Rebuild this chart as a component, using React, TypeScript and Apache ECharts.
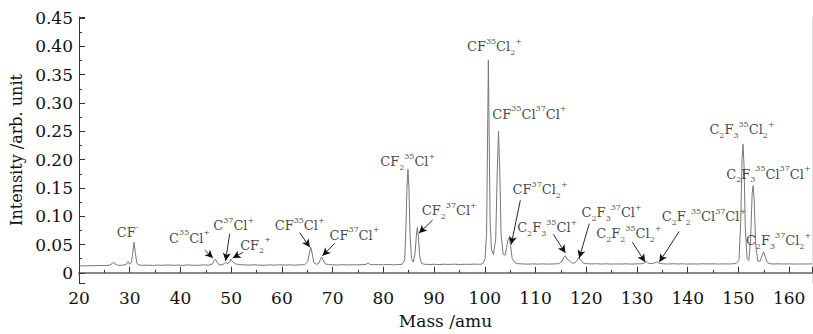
import { useEffect, useRef } from 'react';
import * as echarts from 'echarts';

// Spectrum trace (mass in amu, intensity in arb. unit)
const mass = [
  20, 21, 22, 23, 24, 25, 26, 26.5, 26.8, 27.1, 27.6, 28.2, 28.8, 29.3, 29.7, 30.0, 30.35, 30.6, 30.85, 31.1, 31.4, 31.8,
  32.5, 33.5, 34.5, 35.5, 36.5, 37.5, 38.5, 39.5, 40.5, 41.5, 42.5, 43.5, 44.5, 45.5,
  46.2, 46.6, 46.9, 47.2, 47.6, 48.2, 48.6, 48.9, 49.2, 49.6, 49.95, 50.3, 50.8,
  51.5, 52.5, 53.5, 54.5, 55.5, 56.5, 57.5, 58.5, 59.5, 60.5, 61.5, 62.5, 63.5, 64.5,
  65.1, 65.45, 65.7, 65.95, 66.3, 66.8, 67.3, 67.6, 67.85, 68.1, 68.5, 69.2,
  70, 71, 72, 73, 74, 75, 76, 76.6, 77, 77.4, 78, 79, 80, 81, 82, 83, 83.7,
  84.2, 84.45, 84.65, 84.85, 85.05, 85.25, 85.55, 85.9, 86.25, 86.5, 86.7, 86.9, 87.15, 87.5,
  88, 89, 90, 91, 92, 93, 94, 95, 96, 97, 98, 99, 99.6,
  100.05, 100.35, 100.55, 100.7, 100.85, 101.05, 101.3, 101.7, 102.15, 102.45, 102.7, 102.95, 103.2, 103.6,
  104.0, 104.3, 104.55, 104.8, 105.05, 105.4, 105.9, 106.5,
  107.5, 108.5, 109.5, 110.5, 111.5, 112.5, 113.5, 114.5,
  115.2, 115.6, 115.9, 116.2, 116.6, 117.1, 117.7, 118.2, 118.55, 118.9, 119.4,
  120, 121, 122, 123, 124, 125, 126, 127, 128, 129, 130, 131,
  131.5, 131.9, 132.4, 133, 133.6, 134.0, 134.5, 135.2,
  136, 137, 138, 139, 140, 141, 142, 143, 144, 145, 146, 147, 148, 149, 149.6,
  150.1, 150.45, 150.7, 150.9, 151.1, 151.35, 151.7, 152.05, 152.4, 152.7, 152.9, 153.1, 153.4, 153.8,
  154.25, 154.65, 154.95, 155.3, 155.7, 156.3, 157, 158, 159, 160, 161, 162, 163, 164, 164.5,
];
const intensity = [
  0.0125, 0.0122, 0.0128, 0.0124, 0.0130, 0.0127, 0.0134, 0.0160, 0.0190, 0.0158, 0.0135, 0.0132, 0.0138, 0.0150, 0.0200, 0.0150, 0.0190, 0.0360, 0.0540, 0.0360, 0.0170, 0.0140,
  0.0132, 0.0136, 0.0130, 0.0137, 0.0131, 0.0140, 0.0132, 0.0137, 0.0131, 0.0140, 0.0134, 0.0131, 0.0140, 0.0135,
  0.0150, 0.0210, 0.0240, 0.0190, 0.0145, 0.0140, 0.0160, 0.0190, 0.0160, 0.0180, 0.0240, 0.0190, 0.0160,
  0.0145, 0.0140, 0.0136, 0.0142, 0.0135, 0.0133, 0.0140, 0.0135, 0.0142, 0.0136, 0.0140, 0.0135, 0.0141, 0.0143,
  0.0200, 0.0370, 0.0450, 0.0350, 0.0180, 0.0150, 0.0170, 0.0240, 0.0280, 0.0230, 0.0160, 0.0145,
  0.0142, 0.0138, 0.0144, 0.0139, 0.0143, 0.0140, 0.0145, 0.0150, 0.0175, 0.0148, 0.0143, 0.0146, 0.0141, 0.0147, 0.0142, 0.0146, 0.0150,
  0.0220, 0.0800, 0.1500, 0.1830, 0.1500, 0.0700, 0.0250, 0.0190, 0.0350, 0.0650, 0.0800, 0.0650, 0.0300, 0.0170,
  0.0152, 0.0147, 0.0151, 0.0146, 0.0152, 0.0148, 0.0153, 0.0147, 0.0152, 0.0149, 0.0154, 0.0150, 0.0160,
  0.0250, 0.0700, 0.2400, 0.3760, 0.2500, 0.0900, 0.0420, 0.0320, 0.0600, 0.1800, 0.2500, 0.1800, 0.0700, 0.0330,
  0.0310, 0.0450, 0.0580, 0.0620, 0.0500, 0.0250, 0.0180, 0.0162,
  0.0157, 0.0153, 0.0158, 0.0154, 0.0158, 0.0153, 0.0157, 0.0160,
  0.0200, 0.0280, 0.0300, 0.0240, 0.0220, 0.0180, 0.0170, 0.0220, 0.0270, 0.0220, 0.0172,
  0.0162, 0.0157, 0.0160, 0.0155, 0.0159, 0.0154, 0.0158, 0.0155, 0.0159, 0.0154, 0.0158, 0.0160,
  0.0175, 0.0200, 0.0165, 0.0162, 0.0180, 0.0190, 0.0165, 0.0158,
  0.0155, 0.0160, 0.0156, 0.0159, 0.0154, 0.0158, 0.0155, 0.0160, 0.0156, 0.0159, 0.0155, 0.0158, 0.0156, 0.0160, 0.0170,
  0.0220, 0.0900, 0.2000, 0.2270, 0.1900, 0.0800, 0.0250, 0.0220, 0.0600, 0.1400, 0.1540, 0.1300, 0.0500, 0.0210,
  0.0200, 0.0300, 0.0370, 0.0280, 0.0180, 0.0160, 0.0156, 0.0159, 0.0155, 0.0158, 0.0154, 0.0157, 0.0155, 0.0158, 0.0156,
];

// Ion annotations (rich text), placed at data coordinates
const ionLabels = [
  '{n|CF}{sup|-}',
  '{n|C}{sup|35}{n|Cl}{sup|+}',
  '{n|C}{sup|37}{n|Cl}{sup|+}',
  '{n|CF}{sub|2}{sup|+}',
  '{n|CF}{sup|35}{n|Cl}{sup|+}',
  '{n|CF}{sup|37}{n|Cl}{sup|+}',
  '{n|CF}{sub|2}{sup|35}{n|Cl}{sup|+}',
  '{n|CF}{sub|2}{sup|37}{n|Cl}{sup|+}',
  '{n|CF}{sup|35}{n|Cl}{sub|2}{sup|+}',
  '{n|CF}{sup|35}{n|Cl}{sup|37}{n|Cl}{sup|+}',
  '{n|CF}{sup|37}{n|Cl}{sub|2}{sup|+}',
  '{n|C}{sub|2}{n|F}{sub|3}{sup|35}{n|Cl}{sup|+}',
  '{n|C}{sub|2}{n|F}{sub|3}{sup|37}{n|Cl}{sup|+}',
  '{n|C}{sub|2}{n|F}{sub|2}{sup|35}{n|Cl}{sub|2}{sup|+}',
  '{n|C}{sub|2}{n|F}{sub|2}{sup|35}{n|Cl}{sup|37}{n|Cl}{sup|+}',
  '{n|C}{sub|2}{n|F}{sub|3}{sup|35}{n|Cl}{sub|2}{sup|+}',
  '{n|C}{sub|2}{n|F}{sub|3}{sup|35}{n|Cl}{sup|37}{n|Cl}{sup|+}',
  '{n|C}{sub|2}{n|F}{sub|3}{sup|37}{n|Cl}{sub|2}{sup|+}',
];
const ionLabelMass = [29.6, 41.8, 50.5, 54.8, 63.5, 74.3, 84.8, 93.0, 101.9, 108.8, 110.9, 112.3, 125.0, 128.4, 143.2, 150.7, 155.9, 157.9];
const ionLabelIntensity = [0.071, 0.061, 0.083, 0.049, 0.083, 0.066, 0.196, 0.11, 0.399, 0.28, 0.147, 0.08, 0.106, 0.069, 0.099, 0.253, 0.174, 0.057];

// Pointer arrows: from label to peak
const arrowFromMass = [44.8, 49.7, 52.3, 63.5, 70.4, 89.7, 107.0, 113.5, 120.6, 129.1, 138.3];
const arrowFromIntensity = [0.040, 0.069, 0.036, 0.071, 0.052, 0.093, 0.128, 0.068, 0.087, 0.054, 0.073];
const arrowToMass = [46.4, 48.9, 50.3, 65.5, 68.0, 87.0, 105.2, 115.9, 118.6, 131.6, 134.4];
const arrowToIntensity = [0.026, 0.021, 0.026, 0.045, 0.030, 0.070, 0.050, 0.035, 0.026, 0.019, 0.019];

const FONT = "'DejaVu Serif', 'Liberation Serif', serif";

export default function App() {
  const ref = useRef<HTMLDivElement>(null);
  useEffect(() => {
    document.body.style.margin = '0';
    const chart = echarts.init(ref.current!, undefined, { renderer: 'svg' });
    const small = { fontSize: 8, fontFamily: FONT, color: '#111', lineHeight: 6 };
    const rich = {
      n: { fontSize: 13, fontFamily: FONT, color: '#111', lineHeight: 19, verticalAlign: 'middle' },
      sup: { ...small, verticalAlign: 'top' },
      sub: { ...small, verticalAlign: 'bottom' },
    };
    chart.setOption({
      animation: false,
      grid: { left: 79, right: 1, top: 17, bottom: 46, containLabel: false },
      xAxis: [
        {
          type: 'value',
          min: 20,
          max: 164.5,
          interval: 10,
          name: 'Mass /amu',
          nameLocation: 'middle',
          nameGap: 29,
          nameTextStyle: { fontFamily: FONT, fontSize: 17, color: '#111' },
          axisLine: { show: true, lineStyle: { color: '#333', width: 1 } },
          axisTick: { show: true, inside: true, length: 6, lineStyle: { color: '#333' } },
          minorTick: { show: true, splitNumber: 2, length: 3, lineStyle: { color: '#333' } },
          splitLine: { show: false },
          axisLabel: {
            fontFamily: FONT,
            fontSize: 17,
            color: '#111',
            margin: 6,
            showMaxLabel: false,
            formatter: (v: number) => (Math.abs(v / 10 - Math.round(v / 10)) < 1e-6 ? String(v) : ''),
          },
        },
        {
          type: 'value',
          position: 'top',
          min: 20,
          max: 164.5,
          axisLine: { show: true, lineStyle: { color: '#888', width: 2 } },
          axisTick: { show: false },
          axisLabel: { show: false },
          splitLine: { show: false },
        },
      ],
      yAxis: [
        {
          type: 'value',
          min: -0.018,
          max: 0.452,
          splitNumber: 9,
          name: 'Intensity /arb. unit',
          nameLocation: 'middle',
          nameGap: 53,
          nameTextStyle: { fontFamily: FONT, fontSize: 16, color: '#111' },
          axisLine: { show: true, lineStyle: { color: '#333', width: 1 } },
          axisTick: { show: true, inside: true, length: 6, lineStyle: { color: '#333' } },
          minorTick: { show: true, splitNumber: 2, length: 3, lineStyle: { color: '#333' } },
          splitLine: { show: false },
          axisLabel: {
            fontFamily: FONT,
            fontSize: 17,
            color: '#111',
            margin: 6,
            formatter: (v: number) => {
              const k = v / 0.05;
              if (Math.abs(k - Math.round(k)) > 1e-6 || v < -1e-9) return '';
              return Math.abs(v) < 1e-9 ? '0' : v.toFixed(2);
            },
          },
        },
        {
          type: 'value',
          position: 'right',
          min: -0.018,
          max: 0.452,
          axisLine: { show: true, lineStyle: { color: '#ddd', width: 1 } },
          axisTick: { show: false },
          axisLabel: { show: false },
          splitLine: { show: false },
        },
      ],
      series: [
        {
          type: 'line',
          data: mass.map((m, i) => [m, intensity[i]]),
          showSymbol: false,
          symbol: 'none',
          lineStyle: { color: '#777', width: 1 },
          z: 2,
          markLine: {
            silent: true,
            symbol: ['none', 'arrow'],
            symbolSize: [6, 8],
            label: { show: false },
            lineStyle: { color: '#111', width: 0.9, type: 'solid' },
            data: arrowFromMass.map((m, i) => [
              { coord: [m, arrowFromIntensity[i]] },
              { coord: [arrowToMass[i], arrowToIntensity[i]] },
            ]),
          },
        },
        {
          type: 'scatter',
          data: ionLabelMass.map((m, i) => [m, ionLabelIntensity[i]]),
          symbolSize: 1,
          itemStyle: { color: 'rgba(0,0,0,0)' },
          silent: true,
          z: 5,
          label: {
            show: true,
            position: 'inside',
            formatter: (p: any) => ionLabels[p.dataIndex],
            rich,
          },
        },
      ],
    });
    return () => chart.dispose();
  }, []);
  return <div ref={ref} style={{ width: 813, height: 334 }} />;
}
